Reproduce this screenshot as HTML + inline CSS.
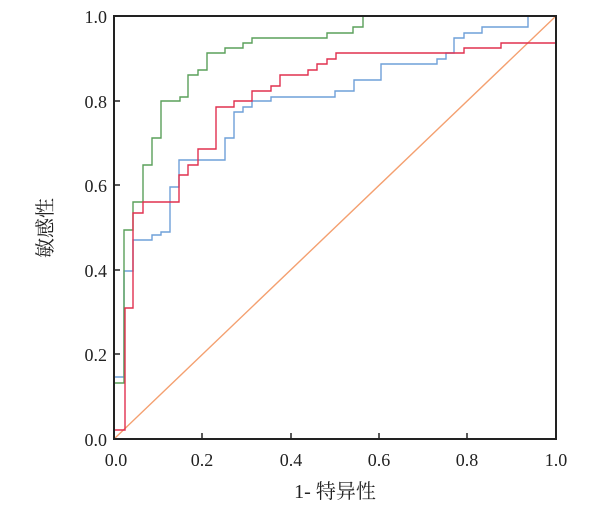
<!DOCTYPE html>
<html><head><meta charset="utf-8"><style>body{margin:0;background:#fff}</style></head><body>
<svg width="611" height="505" xmlns="http://www.w3.org/2000/svg" style="display:block">
<g fill="none" stroke-width="1.4">
<line x1="114" y1="439" x2="556" y2="16" stroke="#f4a070"/>
<polyline stroke="#6fa0d8" points="114,377 124,377 124,271 133,271 133,240 152,240 152,235 161,235 161,232 170,232 170,187 179,187 179,160 225,160 225,138 234,138 234,112 243,112 243,107 252,107 252,101 271,101 271,97 335,97 335,91 354,91 354,80 381,80 381,64 437,64 437,59 446,59 446,53 454,53 454,38 464,38 464,33 482,33 482,27 528,27 528,16"/>
<polyline stroke="#5aa05a" points="114,383 124,383 124,230 133,230 133,202 143,202 143,165 152,165 152,138 161,138 161,101 180,101 180,97 188,97 188,75 198,75 198,70 207,70 207,53 225,53 225,48 243,48 243,43 252,43 252,38 327,38 327,33 353,33 353,27 363,27 363,16"/>
<polyline stroke="#e0304f" points="114,430 125,430 125,308 133,308 133,213 143,213 143,202 179,202 179,175 188,175 188,165 198,165 198,149 216,149 216,107 234,107 234,101 252,101 252,91 271,91 271,86 280,86 280,75 308,75 308,70 317,70 317,64 327,64 327,59 336,59 336,53 464,53 464,48 501,48 501,43 556,43"/>
</g>
<rect x="114" y="16" width="442" height="423" fill="none" stroke="#222" stroke-width="2"/>
<g stroke="#222" stroke-width="1.5">
<line x1="202" y1="439" x2="202" y2="433"/><line x1="291" y1="439" x2="291" y2="433"/><line x1="379" y1="439" x2="379" y2="433"/><line x1="467" y1="439" x2="467" y2="433"/>
<line x1="114" y1="354" x2="120" y2="354"/><line x1="114" y1="270" x2="120" y2="270"/><line x1="114" y1="185" x2="120" y2="185"/><line x1="114" y1="101" x2="120" y2="101"/>
</g>
<g font-family="Liberation Serif, serif" font-size="18" fill="#222" text-anchor="end">
<text x="107" y="446">0.0</text><text x="107" y="361">0.2</text><text x="107" y="277">0.4</text><text x="107" y="192">0.6</text><text x="107" y="108">0.8</text><text x="107" y="23">1.0</text>
</g>
<g font-family="Liberation Serif, serif" font-size="18" fill="#222" text-anchor="middle">
<text x="116" y="466">0.0</text><text x="202" y="466">0.2</text><text x="291" y="466">0.4</text><text x="379" y="466">0.6</text><text x="467" y="466">0.8</text><text x="556" y="466">1.0</text>
</g>
<text x="335" y="498" text-anchor="middle" font-family="Liberation Serif, 'Noto Serif CJK SC', serif" font-size="20" fill="#222">1- 特异性</text>
<text transform="translate(52,228) rotate(-90)" text-anchor="middle" font-family="'Noto Serif CJK SC', serif" font-size="20" fill="#222">敏感性</text>
</svg>
</body></html>
